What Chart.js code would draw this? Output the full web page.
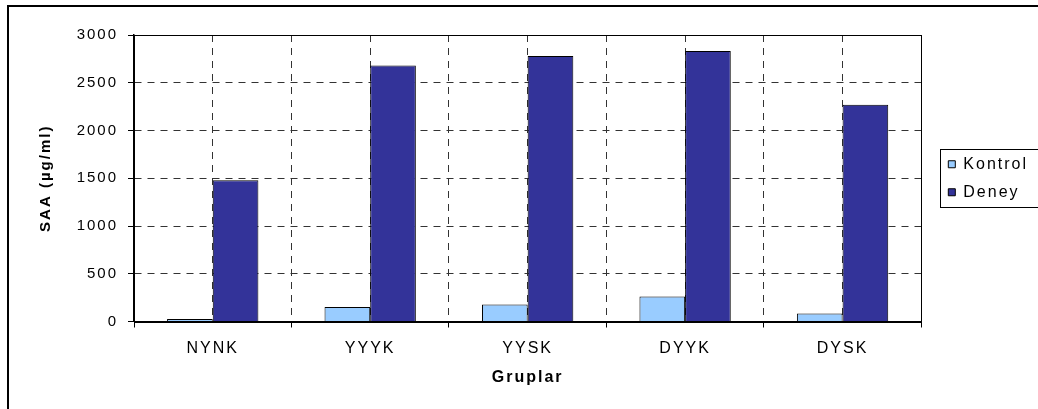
<!DOCTYPE html>
<html>
<head>
<meta charset="utf-8">
<script src="https://cdn.jsdelivr.net/npm/chart.js@4.4.1/dist/chart.umd.min.js"></script>
<style>
html,body{margin:0;padding:0;background:#fff;}
canvas{display:block;}
</style>
</head>
<body>
<canvas id="c" width="1038" height="409" style="width:1038px;height:409px"></canvas>
<script>
const categories = ['NYNK', 'YYYK', 'YYSK', 'DYYK', 'DYSK'];
const kontrol = [25, 152, 178, 262, 84];
const deney = [1480, 2680, 2780, 2832, 2270];
const yTickValues = [0, 500, 1000, 1500, 2000, 2500, 3000];
const seriesNames = ['Kontrol', 'Deney'];
const xTitle = 'Gruplar';
const yTitle = 'SAA (µg/ml)';

const FONT = "'Liberation Sans', Arial, sans-serif";
const LS = '2px';
const GRID = '#333333';
const DASH = [7, 6];

const spacingPlugin = {
  id: 'spacing',
  beforeInit(c) { c.ctx.letterSpacing = LS; },
  beforeUpdate(c) { c.ctx.letterSpacing = LS; },
  beforeLayout(c) { c.ctx.letterSpacing = LS; },
  beforeDraw(c) { c.ctx.letterSpacing = LS; }
};

const framePlugin = {
  id: 'frame',
  beforeDraw(c) {
    const ctx = c.ctx;
    ctx.save();
    ctx.fillStyle = '#fff';
    ctx.fillRect(0, 0, c.width, c.height);
    ctx.strokeStyle = '#000';
    ctx.lineWidth = 2;
    ctx.strokeRect(8, 6, 1200, 600);
    ctx.restore();
  },
  beforeDatasetsDraw(c) {
    const a = c.chartArea, ctx = c.ctx;
    ctx.save();
    ctx.strokeStyle = '#000';
    ctx.lineWidth = 1;
    ctx.strokeRect(Math.round(a.left) + 0.5, Math.round(a.top) + 0.5, Math.round(a.right - a.left), Math.round(a.bottom - a.top));
    ctx.restore();
  },
  afterDraw(c) {
    const lg = c.legend;
    if (!lg || !lg.legendHitBoxes || !lg.legendHitBoxes.length) return;
    const hb = lg.legendHitBoxes;
    const first = hb[0], last = hb[hb.length - 1];
    const ctx = c.ctx;
    ctx.save();
    ctx.strokeStyle = '#000';
    ctx.lineWidth = 1;
    const l = Math.round(first.left - 8) + 0.5;
    const t = Math.round(first.top - 7) + 0.5;
    const b = Math.round(last.top + last.height + 7) + 0.5;
    ctx.strokeRect(l, t, 1100 - l, b - t);
    ctx.restore();
  }
};

new Chart(document.getElementById('c'), {
  type: 'bar',
  data: {
    labels: categories,
    datasets: [
      { label: seriesNames[0], data: kontrol, backgroundColor: '#99CCFF', borderColor: '#000', borderWidth: 1, xAxisID: 'x', yAxisID: 'y' },
      { label: seriesNames[1], data: deney, backgroundColor: '#333399', borderColor: '#000', borderWidth: 1, xAxisID: 'x', yAxisID: 'y' }
    ]
  },
  options: {
    responsive: false,
    animation: false,
    devicePixelRatio: 1,
    categoryPercentage: 0.58,
    barPercentage: 1.0,
    layout: { padding: { left: 33, top: 35, right: 0, bottom: 18 } },
    plugins: {
      tooltip: { enabled: false },
      legend: {
        position: 'right',
        align: 'center',
        fullSize: false,
        maxWidth: 105,
        labels: {
          boxWidth: 7,
          boxHeight: 7,
          padding: 12,
          color: '#000',
          font: { family: FONT, size: 16 }
        }
      }
    },
    scales: {
      x: {
        type: 'category',
        position: 'bottom',
        offset: true,
        grid: {
          offset: true,
          drawOnChartArea: false,
          drawTicks: true,
          tickLength: 6,
          color: '#000',
          tickColor: '#000'
        },
        border: { display: true, color: '#000', width: 1 },
        ticks: { color: '#000', font: { family: FONT, size: 16 }, padding: 11, maxRotation: 0 },
        title: { display: true, text: xTitle, color: '#000', font: { family: FONT, size: 16, weight: 'bold' }, padding: { top: 4, bottom: 4 } },
        afterFit(s) { s.height = 69.5; }
      },
      xg: {
        type: 'linear',
        position: 'bottom',
        min: -0.5,
        max: 4.5,
        offset: false,
        display: true,
        afterBuildTicks(s) {
          const t = [];
          for (let i = 0; i <= categories.length * 2; i++) t.push({ value: -0.5 + i * 0.5 });
          s.ticks = t;
        },
        ticks: { display: false },
        grid: {
          offset: false,
          drawTicks: false,
          color: (ctx) => (ctx.tick && (ctx.tick.value <= -0.5 || ctx.tick.value >= categories.length - 0.5)) ? 'rgba(0,0,0,0)' : GRID,
          lineWidth: 1
        },
        border: { display: false, dash: DASH },
        afterFit(s) { s.height = 0; }
      },
      y: {
        type: 'linear',
        position: 'left',
        min: 0,
        max: 3000,
        afterBuildTicks(s) { s.ticks = yTickValues.map(v => ({ value: v })); },
        grid: {
          color: GRID,
          lineWidth: 1,
          drawTicks: true,
          tickLength: 6,
          tickColor: '#000'
        },
        border: { display: true, color: '#000', width: 1.5, dash: DASH },
        ticks: { color: '#000', font: { family: FONT, size: 15 }, padding: 10, callback: (v) => String(v) },
        title: { display: true, text: yTitle, color: '#000', font: { family: FONT, size: 15, weight: 'bold' }, padding: { top: 4, bottom: 4 } },
        afterFit(s) { s.width = 101; }
      },
      yR: {
        type: 'linear',
        position: 'right',
        display: true,
        ticks: { display: false },
        grid: { display: false, drawTicks: false },
        border: { display: false },
        afterFit(s) { s.width = 15; }
      }
    }
  },
  plugins: [spacingPlugin, framePlugin]
});
</script>
</body>
</html>
